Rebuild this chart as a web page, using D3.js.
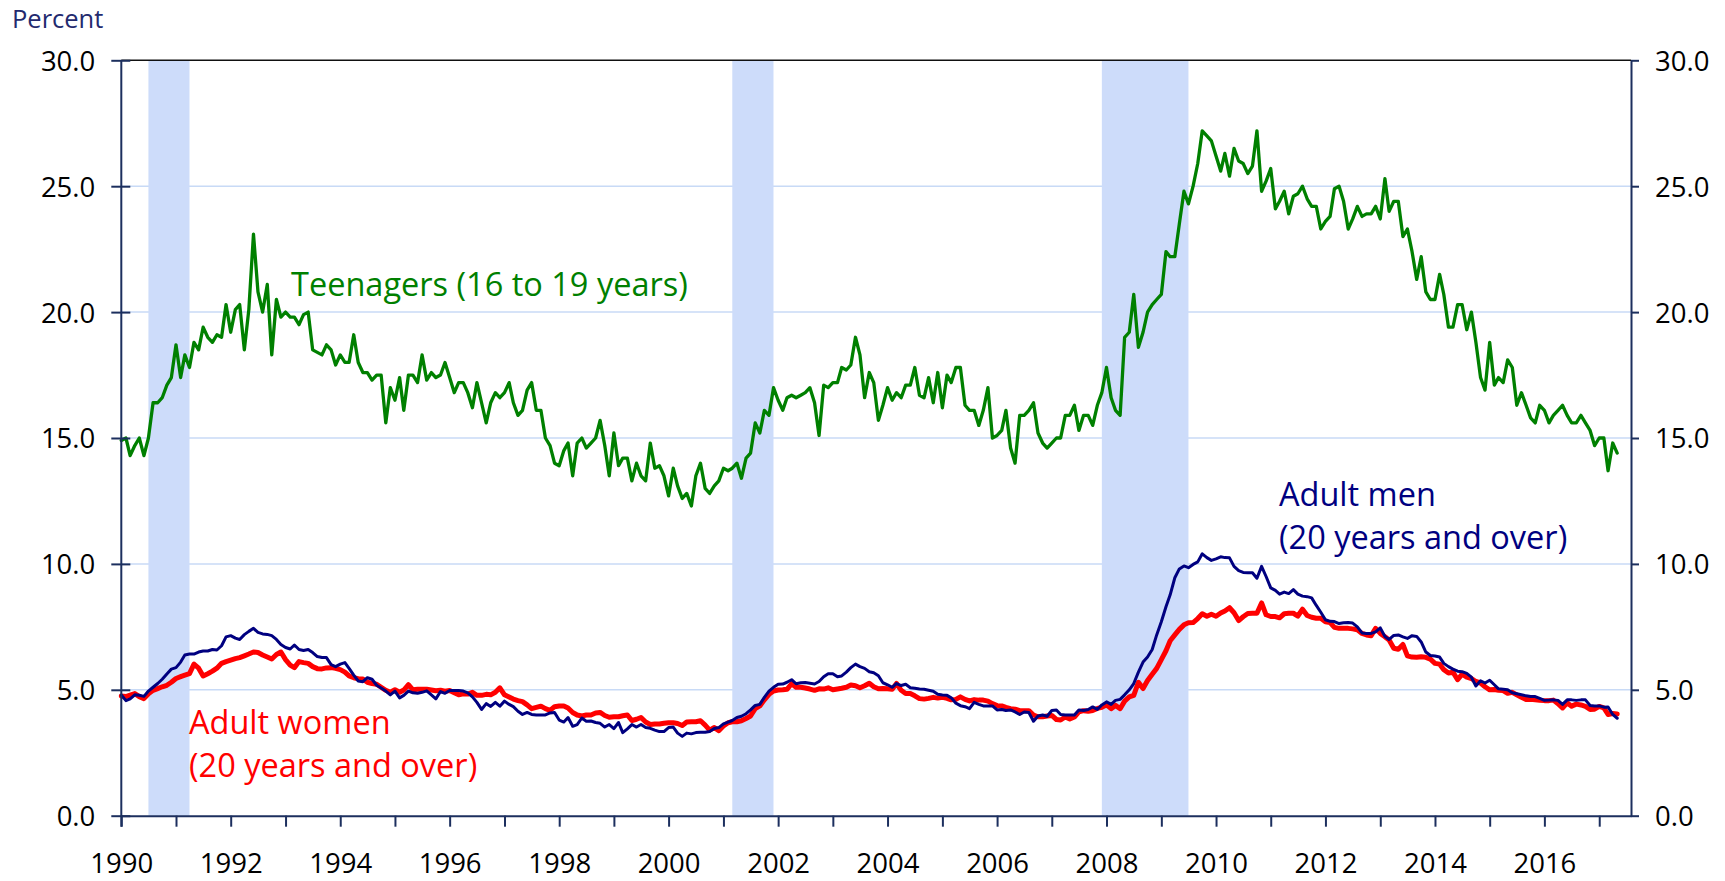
<!DOCTYPE html>
<html>
<head>
<meta charset="utf-8">
<script src="https://cdn.jsdelivr.net/npm/d3@7"></script>
<style>
  body { margin: 0; background: #fff; }
  svg { display: block; }
</style>
</head>
<body>
<svg id="chart" width="1725" height="881"></svg>
<script>
// Monthly unemployment rates, seasonally adjusted, January 1990 onward (percent)
const firstMonth = "1990-01";

const teenagers = [
  14.9, 15.0, 14.3, 14.7, 15.0, 14.3, 15.0, 16.4, 16.4, 16.6, 17.1, 17.4, // 1990
  18.7, 17.4, 18.3, 17.8, 18.8, 18.5, 19.4, 19.0, 18.8, 19.1, 19.0, 20.3, // 1991
  19.2, 20.1, 20.3, 18.5, 20.1, 23.1, 20.8, 20.0, 21.1, 18.3, 20.5, 19.8, // 1992
  20.0, 19.8, 19.8, 19.5, 19.9, 20.0, 18.5, 18.4, 18.3, 18.7, 18.5, 17.9, // 1993
  18.3, 18.0, 18.0, 19.1, 18.0, 17.6, 17.6, 17.3, 17.5, 17.5, 15.6, 17.0, // 1994
  16.5, 17.4, 16.1, 17.5, 17.5, 17.2, 18.3, 17.3, 17.6, 17.4, 17.5, 18.0, // 1995
  17.4, 16.8, 17.2, 17.2, 16.8, 16.2, 17.2, 16.4, 15.6, 16.4, 16.8, 16.6, // 1996
  16.8, 17.2, 16.4, 15.9, 16.1, 16.9, 17.2, 16.1, 16.1, 15.0, 14.7, 14.0, // 1997
  13.9, 14.5, 14.8, 13.5, 14.8, 15.0, 14.6, 14.8, 15.0, 15.7, 14.7, 13.5, // 1998
  15.2, 13.9, 14.2, 14.2, 13.3, 14.0, 13.5, 13.3, 14.8, 13.8, 13.9, 13.5, // 1999
  12.7, 13.8, 13.1, 12.6, 12.8, 12.3, 13.5, 14.0, 13.0, 12.8, 13.1, 13.3, // 2000
  13.8, 13.7, 13.8, 14.0, 13.4, 14.2, 14.4, 15.6, 15.2, 16.1, 15.9, 17.0, // 2001
  16.5, 16.1, 16.6, 16.7, 16.6, 16.7, 16.8, 17.0, 16.4, 15.1, 17.1, 17.0, // 2002
  17.2, 17.2, 17.8, 17.7, 17.9, 19.0, 18.3, 16.6, 17.6, 17.2, 15.7, 16.3, // 2003
  17.0, 16.5, 16.8, 16.6, 17.1, 17.1, 17.8, 16.7, 16.6, 17.4, 16.4, 17.6, // 2004
  16.2, 17.5, 17.2, 17.8, 17.8, 16.3, 16.1, 16.1, 15.5, 16.1, 17.0, 15.0, // 2005
  15.1, 15.3, 16.1, 14.6, 14.0, 15.9, 15.9, 16.1, 16.4, 15.2, 14.8, 14.6, // 2006
  14.8, 15.0, 15.0, 15.9, 15.9, 16.3, 15.3, 15.9, 15.9, 15.5, 16.3, 16.8, // 2007
  17.8, 16.6, 16.1, 15.9, 19.0, 19.2, 20.7, 18.6, 19.2, 20.0, 20.3, 20.5, // 2008
  20.7, 22.4, 22.2, 22.2, 23.5, 24.8, 24.3, 25.0, 25.9, 27.2, 27.0, 26.8, // 2009
  26.2, 25.6, 26.3, 25.4, 26.5, 26.0, 25.9, 25.5, 25.8, 27.2, 24.8, 25.2, // 2010
  25.7, 24.1, 24.4, 24.8, 23.9, 24.6, 24.7, 25.0, 24.5, 24.2, 24.2, 23.3, // 2011
  23.6, 23.8, 24.9, 25.0, 24.4, 23.3, 23.7, 24.2, 23.8, 23.9, 23.9, 24.2, // 2012
  23.7, 25.3, 24.0, 24.4, 24.4, 23.0, 23.3, 22.4, 21.3, 22.2, 20.8, 20.5, // 2013
  20.5, 21.5, 20.7, 19.4, 19.4, 20.3, 20.3, 19.3, 20.0, 18.8, 17.4, 16.9, // 2014
  18.8, 17.1, 17.4, 17.2, 18.1, 17.8, 16.3, 16.8, 16.3, 15.8, 15.6, 16.3, // 2015
  16.1, 15.6, 15.9, 16.1, 16.3, 15.9, 15.6, 15.6, 15.9, 15.6, 15.3, 14.7, // 2016
  15.0, 15.0, 13.7, 14.8, 14.4                                            // 2017
];

const adultMen = [
  4.79, 4.57, 4.64, 4.80, 4.78, 4.74, 4.95, 5.10, 5.25, 5.42, 5.63, 5.82, // 1990
  5.88, 6.10, 6.38, 6.42, 6.42, 6.50, 6.54, 6.54, 6.60, 6.58, 6.75, 7.10, // 1991
  7.15, 7.05, 7.00, 7.19, 7.32, 7.44, 7.28, 7.22, 7.20, 7.15, 7.00, 6.80, // 1992
  6.68, 6.62, 6.78, 6.60, 6.56, 6.60, 6.48, 6.32, 6.28, 6.28, 6.00, 5.92, // 1993
  6.02, 6.08, 5.85, 5.58, 5.35, 5.32, 5.48, 5.42, 5.18, 5.07, 4.95, 4.80, // 1994
  4.95, 4.68, 4.78, 4.95, 4.88, 4.86, 4.90, 4.96, 4.80, 4.64, 4.93, 4.86, // 1995
  4.97, 4.97, 4.97, 4.95, 4.88, 4.72, 4.50, 4.22, 4.45, 4.34, 4.50, 4.35, // 1996
  4.55, 4.42, 4.33, 4.15, 4.02, 4.10, 4.02, 4.00, 4.00, 4.00, 4.08, 4.10, // 1997
  3.80, 3.72, 3.90, 3.55, 3.62, 3.88, 3.75, 3.76, 3.70, 3.67, 3.52, 3.62, // 1998
  3.46, 3.70, 3.30, 3.45, 3.62, 3.52, 3.62, 3.50, 3.47, 3.40, 3.34, 3.34, // 1999
  3.50, 3.52, 3.28, 3.15, 3.28, 3.25, 3.30, 3.31, 3.31, 3.34, 3.46, 3.50, // 2000
  3.65, 3.72, 3.78, 3.90, 3.95, 4.05, 4.20, 4.38, 4.42, 4.70, 4.95, 5.10, // 2001
  5.22, 5.23, 5.30, 5.40, 5.24, 5.28, 5.29, 5.26, 5.23, 5.33, 5.52, 5.64, // 2002
  5.64, 5.52, 5.55, 5.70, 5.88, 6.02, 5.92, 5.85, 5.72, 5.68, 5.56, 5.28, // 2003
  5.20, 5.10, 5.25, 5.17, 5.22, 5.08, 5.06, 5.03, 5.02, 4.98, 4.94, 4.82, // 2004
  4.79, 4.78, 4.68, 4.47, 4.37, 4.33, 4.25, 4.50, 4.42, 4.36, 4.36, 4.36, // 2005
  4.20, 4.22, 4.18, 4.20, 4.12, 4.02, 4.12, 4.10, 3.75, 3.96, 4.00, 3.95, // 2006
  4.18, 4.20, 4.02, 4.00, 4.00, 4.00, 4.20, 4.18, 4.22, 4.32, 4.22, 4.40, // 2007
  4.52, 4.42, 4.58, 4.62, 4.80, 5.00, 5.25, 5.70, 6.10, 6.30, 6.60, 7.18, // 2008
  7.70, 8.30, 8.77, 9.45, 9.80, 9.92, 9.85, 9.98, 10.08, 10.40, 10.25, 10.14, // 2009
  10.20, 10.28, 10.25, 10.24, 9.90, 9.73, 9.66, 9.65, 9.65, 9.43, 9.90, 9.50, // 2010
  9.05, 8.95, 8.80, 8.88, 8.82, 8.98, 8.80, 8.72, 8.70, 8.65, 8.35, 8.08, // 2011
  7.78, 7.72, 7.71, 7.63, 7.66, 7.67, 7.65, 7.50, 7.26, 7.24, 7.24, 7.30, // 2012
  7.46, 7.12, 7.00, 7.16, 7.18, 7.10, 7.04, 7.15, 7.12, 6.90, 6.50, 6.36, // 2013
  6.34, 6.30, 6.05, 5.92, 5.82, 5.74, 5.72, 5.65, 5.50, 5.15, 5.36, 5.27, // 2014
  5.38, 5.20, 5.04, 5.02, 5.00, 4.88, 4.84, 4.80, 4.76, 4.73, 4.73, 4.66, // 2015
  4.58, 4.59, 4.60, 4.58, 4.42, 4.60, 4.60, 4.58, 4.60, 4.60, 4.38, 4.36, // 2016
  4.36, 4.31, 4.32, 4.02, 3.87                                            // 2017
];

const adultWomen = [
  4.75, 4.73, 4.79, 4.85, 4.73, 4.65, 4.84, 4.98, 5.05, 5.12, 5.18, 5.30, // 1990
  5.45, 5.52, 5.58, 5.64, 6.02, 5.86, 5.55, 5.64, 5.74, 5.86, 6.05, 6.12, // 1991
  6.18, 6.24, 6.28, 6.35, 6.42, 6.50, 6.48, 6.38, 6.30, 6.22, 6.40, 6.50, // 1992
  6.20, 5.98, 5.88, 6.12, 6.08, 6.05, 5.92, 5.84, 5.83, 5.87, 5.88, 5.85, // 1993
  5.80, 5.70, 5.55, 5.48, 5.44, 5.43, 5.30, 5.25, 5.22, 5.10, 4.98, 4.90, // 1994
  5.00, 4.90, 4.99, 5.20, 5.00, 5.02, 5.02, 5.02, 4.99, 4.96, 4.98, 4.94, // 1995
  4.97, 4.88, 4.80, 4.84, 4.83, 4.90, 4.78, 4.78, 4.82, 4.80, 4.90, 5.08, // 1996
  4.80, 4.71, 4.63, 4.57, 4.53, 4.40, 4.25, 4.30, 4.35, 4.25, 4.18, 4.33, // 1997
  4.36, 4.36, 4.28, 4.10, 4.00, 3.96, 4.00, 4.00, 4.08, 4.10, 3.98, 3.91, // 1998
  3.93, 3.93, 3.97, 4.00, 3.78, 3.83, 3.90, 3.72, 3.62, 3.64, 3.64, 3.67, // 1999
  3.69, 3.69, 3.66, 3.58, 3.72, 3.73, 3.73, 3.77, 3.60, 3.40, 3.50, 3.38, // 2000
  3.56, 3.69, 3.73, 3.73, 3.77, 3.86, 3.96, 4.25, 4.36, 4.60, 4.82, 4.95, // 2001
  4.99, 5.00, 5.02, 5.24, 5.10, 5.10, 5.07, 5.03, 4.98, 5.04, 5.03, 5.08, // 2002
  5.00, 5.03, 5.06, 5.10, 5.19, 5.16, 5.08, 5.16, 5.26, 5.12, 5.04, 5.05, // 2003
  5.04, 5.02, 5.25, 4.98, 4.85, 4.85, 4.76, 4.65, 4.63, 4.66, 4.70, 4.67, // 2004
  4.70, 4.66, 4.60, 4.62, 4.72, 4.62, 4.56, 4.61, 4.59, 4.59, 4.55, 4.45, // 2005
  4.37, 4.36, 4.30, 4.25, 4.23, 4.17, 4.17, 4.17, 4.00, 3.93, 3.93, 3.96, // 2006
  3.98, 3.82, 3.80, 3.92, 3.84, 3.92, 4.12, 4.17, 4.15, 4.18, 4.26, 4.30, // 2007
  4.40, 4.25, 4.38, 4.25, 4.55, 4.72, 4.78, 5.30, 5.05, 5.37, 5.62, 5.85, // 2008
  6.20, 6.55, 6.95, 7.18, 7.40, 7.58, 7.66, 7.67, 7.83, 8.02, 7.92, 8.00, // 2009
  7.92, 8.05, 8.13, 8.26, 8.06, 7.75, 7.90, 8.03, 8.04, 8.04, 8.45, 7.98, // 2010
  7.91, 7.91, 7.86, 8.02, 8.04, 8.04, 7.93, 8.20, 7.95, 7.88, 7.84, 7.84, // 2011
  7.70, 7.67, 7.48, 7.44, 7.44, 7.44, 7.42, 7.38, 7.24, 7.18, 7.15, 7.44, // 2012
  7.24, 7.11, 6.98, 6.65, 6.61, 6.80, 6.35, 6.30, 6.29, 6.31, 6.29, 6.22, // 2013
  6.05, 6.02, 5.80, 5.67, 5.70, 5.40, 5.62, 5.50, 5.45, 5.33, 5.27, 5.12, // 2014
  5.00, 5.01, 4.98, 4.97, 4.86, 4.90, 4.80, 4.70, 4.61, 4.62, 4.60, 4.58, // 2015
  4.57, 4.57, 4.59, 4.45, 4.28, 4.48, 4.35, 4.43, 4.40, 4.34, 4.22, 4.23, // 2016
  4.34, 4.28, 4.02, 4.06, 4.04                                            // 2017
];

// Recessions (start month, month after end)
const recessions = [["1990-07", "1991-04"], ["2001-03", "2001-12"], ["2007-12", "2009-07"]];

const yTicks = [0, 5, 10, 15, 20, 25, 30];
const tickYears = d3.range(1990, 2018);
const yearLabels = ["1990", "1992", "1994", "1996", "1998", "2000", "2002", "2004",
                    "2006", "2008", "2010", "2012", "2014", "2016"];

const seriesLabels = {
  teen:  ["Teenagers (16 to 19 years)"],
  men:   ["Adult men", "(20 years and over)"],
  women: ["Adult women", "(20 years and over)"]
};

// ---- layout ----
const FONT = "'Open Sans', 'Noto Sans', sans-serif";
const axisColor = "#1c2f5e";
const gridColor = "#c8daf6";
const bandColor = "#cddcfa";
const plot = { left: 121.3, right: 1631, top: 60.3, bottom: 815.7 };

const parseMonth = d3.timeParse("%Y-%m");
const start = parseMonth(firstMonth);
const monthDate = i => d3.timeMonth.offset(start, i);

const svg = d3.select("#chart");

const x = d3.scaleTime()
  .domain([start, parseMonth("2017-08")])
  .range([plot.left, plot.right]);
const y = d3.scaleLinear().domain([0, 30]).range([plot.bottom, plot.top]);

// horizontal gridlines
svg.append("g")
  .selectAll("line")
  .data(yTicks.filter(v => v > 0 && v < 30))
  .join("line")
  .attr("x1", plot.left).attr("x2", plot.right)
  .attr("y1", d => y(d)).attr("y2", d => y(d))
  .attr("stroke", gridColor).attr("stroke-width", 1.5);

// recession shading
svg.append("g")
  .selectAll("rect")
  .data(recessions)
  .join("rect")
  .attr("x", d => x(parseMonth(d[0])))
  .attr("width", d => x(parseMonth(d[1])) - x(parseMonth(d[0])))
  .attr("y", y(30))
  .attr("height", y(0) - y(30))
  .attr("fill", bandColor);

// top border at 30.0
svg.append("line")
  .attr("x1", plot.left).attr("x2", plot.right)
  .attr("y1", y(30)).attr("y2", y(30))
  .attr("stroke", "#111").attr("stroke-width", 1.6);

// series lines
const line = d3.line().x((d, i) => x(monthDate(i))).y(d => y(d));
const series = [
  { data: teenagers, color: "#008000", width: 3.3 },
  { data: adultWomen, color: "#ff0000", width: 5 },
  { data: adultMen, color: "#000080", width: 3 }
];
svg.append("g")
  .selectAll("path")
  .data(series)
  .join("path")
  .attr("d", d => line(d.data))
  .attr("fill", "none")
  .attr("stroke", d => d.color)
  .attr("stroke-width", d => d.width)
  .attr("stroke-linejoin", "round")
  .attr("stroke-linecap", "round");

// axes
function styleAxis(g) {
  g.attr("font-family", FONT).attr("font-size", 27.5);
  g.selectAll(".tick line").attr("stroke", axisColor).attr("stroke-width", 2);
  g.selectAll(".tick text").attr("fill", "#000");
  g.select(".domain").attr("stroke", axisColor).attr("stroke-width", 2);
}

const fmt = d3.format(".1f");

const leftAxis = svg.append("g")
  .attr("transform", `translate(${plot.left},0)`)
  .call(d3.axisLeft(y).tickValues(yTicks).tickFormat(fmt).tickSize(10).tickPadding(16).tickSizeOuter(0))
  .call(styleAxis);
leftAxis.select(".domain").remove();
leftAxis.selectAll(".tick line").attr("x1", 9);
leftAxis.selectAll(".tick text").attr("dy", "0.36em");
svg.append("line")
  .attr("x1", plot.left).attr("x2", plot.left)
  .attr("y1", plot.top).attr("y2", plot.bottom + 11)
  .attr("stroke", axisColor).attr("stroke-width", 2);

const rightAxis = svg.append("g")
  .attr("transform", `translate(${plot.right},0)`)
  .call(d3.axisRight(y).tickValues(yTicks).tickFormat(fmt).tickSize(8).tickPadding(16).tickSizeOuter(0))
  .call(styleAxis);
rightAxis.selectAll(".tick text").attr("dy", "0.36em");

svg.append("g")
  .attr("transform", `translate(0,${plot.bottom})`)
  .call(d3.axisBottom(x)
    .tickValues(tickYears.map(yr => new Date(yr, 0, 1)))
    .tickSize(11).tickPadding(27).tickSizeOuter(0)
    .tickFormat(d => {
      const s = String(d.getFullYear());
      return yearLabels.includes(s) ? s : "";
    }))
  .call(styleAxis);

// axis title
svg.append("text")
  .attr("x", 12).attr("y", 28)
  .attr("font-family", FONT).attr("font-size", 25.5)
  .attr("fill", "#232a6e")
  .text("Percent");

// series labels
function label(lines, x0, y0, color) {
  const t = svg.append("text")
    .attr("font-family", FONT).attr("font-size", 32.5)
    .attr("fill", color);
  lines.forEach((s, i) => {
    t.append("tspan").attr("x", x0).attr("y", y0 + i * 43).text(s);
  });
}
label(seriesLabels.teen, 291, 296, "#008000");
label(seriesLabels.men, 1279, 506, "#000080");
label(seriesLabels.women, 189, 734, "#ff0000");
</script>
</body>
</html>
